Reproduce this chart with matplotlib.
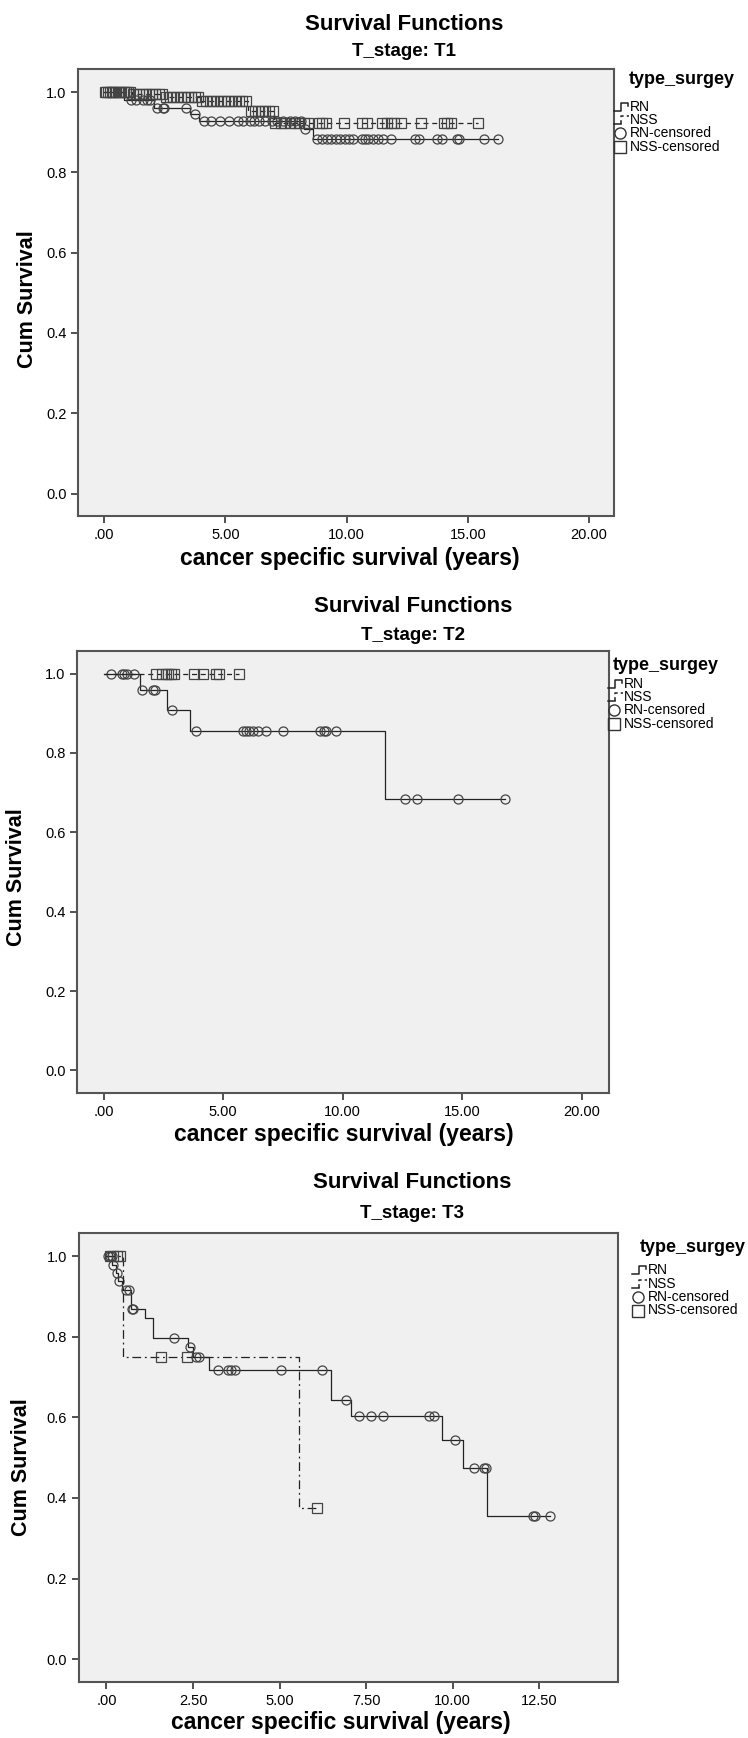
import matplotlib
matplotlib.use('Agg')
import matplotlib.pyplot as plt
from matplotlib.lines import Line2D
import numpy as np

plt.rcParams['font.family'] = ['Liberation Sans', 'DejaVu Sans']

# ---- T1 ----
t1_rn_event_t = [0.80, 2.05, 3.55, 3.90, 8.25, 8.60]
t1_rn_event_s = [0.981, 0.960, 0.945, 0.929, 0.909, 0.883]
t1_rn_cens = [1.09, 1.30, 1.58, 1.75, 1.90, 2.18, 2.42, 2.45, 3.36, 3.74, 4.10, 4.40,
              4.77, 5.14, 5.51, 5.73, 6.03, 6.18, 6.40, 6.62, 6.91, 7.14, 7.36, 7.66,
              7.88, 8.10, 8.30, 8.77, 8.99, 9.21, 9.36, 9.58, 9.73, 9.95, 10.10, 10.25,
              10.62, 10.77, 10.89, 11.07, 11.29, 11.51, 11.81, 12.84, 12.99, 13.73,
              13.95, 14.55, 14.62, 15.66, 16.25]
t1_nss_event_t = [1.15, 2.45, 3.95, 5.95, 7.00]
t1_nss_event_s = [0.995, 0.988, 0.977, 0.952, 0.923]
t1_nss_cens = [0.02, 0.08, 0.15, 0.22, 0.30, 0.38, 0.45, 0.55, 0.62, 0.70, 0.80, 0.90,
               1.00, 1.08, 1.20, 1.33, 1.45, 1.60, 1.72, 1.85, 1.98, 2.10, 2.25, 2.38,
               2.55, 2.70, 2.85, 3.00, 3.15, 3.30, 3.45, 3.60, 3.75, 3.88, 4.05, 4.20,
               4.35, 4.50, 4.65, 4.80, 4.95, 5.10, 5.25, 5.40, 5.55, 5.70, 5.85, 6.05,
               6.20, 6.35, 6.50, 6.65, 6.80, 6.95, 7.06, 7.28, 7.43, 7.66, 7.88, 8.03,
               8.25, 8.40, 8.84, 8.99, 9.14, 9.88, 10.62, 10.84, 11.44, 11.66, 11.81,
               11.96, 12.25, 13.06, 14.03, 14.15, 14.32, 15.44]

# ---- T2 ----
t2_rn_event_t = [1.53, 2.66, 3.63, 11.78]
t2_rn_event_s = [0.958, 0.908, 0.855, 0.684]
t2_rn_cens = [0.29, 0.75, 0.85, 0.99, 1.27, 1.59, 2.08, 2.14, 2.87, 3.88, 5.84, 5.95,
              6.07, 6.25, 6.44, 6.81, 7.50, 9.06, 9.20, 9.31, 9.73, 12.60, 13.10,
              14.80, 16.80]
t2_nss_event_t = []
t2_nss_event_s = []
t2_nss_cens = [2.17, 2.45, 2.60, 2.70, 2.80, 2.94, 3.77, 4.16, 4.68, 4.82, 5.65]

# ---- T3 ----
t3_rn_event_t = [0.17, 0.27, 0.33, 0.45, 0.70, 1.10, 1.34, 2.37, 2.49, 2.97, 6.47,
                 7.07, 9.69, 10.30, 11.00]
t3_rn_event_s = [0.979, 0.959, 0.938, 0.916, 0.870, 0.846, 0.798, 0.775, 0.750,
                 0.717, 0.643, 0.603, 0.544, 0.475, 0.355]
t3_rn_cens = [0.05, 0.10, 0.15, 0.19, 0.31, 0.36, 0.57, 0.65, 0.74, 0.78, 1.96, 2.42,
              2.59, 2.68, 3.21, 3.50, 3.61, 3.71, 5.05, 6.23, 6.91, 7.29, 7.65, 7.99,
              9.31, 9.45, 10.07, 10.60, 10.91, 10.97, 12.33, 12.38, 12.81]
t3_nss_event_t = [0.47, 5.56]
t3_nss_event_s = [0.75, 0.375]
t3_nss_cens = [0.10, 0.20, 0.30, 0.40, 1.58, 2.33, 6.07]

stages = ['T1', 'T2', 'T3']
xticks_by_stage = [[0, 5, 10, 15, 20], [0, 5, 10, 15, 20], [0, 2.5, 5, 7.5, 10, 12.5]]
xlim_by_stage = [(-1.07, 21.03), (-1.10, 21.13), (-0.80, 14.77)]
legend_labels = ['RN', 'NSS', 'RN-censored', 'NSS-censored']

W, H = 748, 1738
# axes boxes in pixels: left, right, top, bottom
boxes = [(78.3, 614, 69.3, 516), (77.3, 609, 651, 1092.7), (78.7, 618, 1233.3, 1681.7)]
title_y = [25, 606, 1183]
sub_y = [52, 636, 1214]
title_x = [404, 413, 412]
ylab_x = [28, 17, 22]
ylab_dy = [6, 5, 10]
xlab_y = [559, 1135, 1723]
xlab_x = [350, 344, 341]
nss_styles = [(0, (4, 3)), (0, (4, 3)), (0, (7, 3, 1.5, 3))]
# legend: title x, title y, entry text x, first row y, row step (pixels)
leg_pos = [(629, 79, 630, 107, 13.2), (613, 665, 624, 684, 13.2), (640, 1247, 648, 1270, 13.5)]

DARK = '#222222'
GREY = '#444444'


def km_curve(ev_t, ev_s, cens):
    end = max(cens + ev_t)
    x = [0] + list(ev_t) + [end]
    y = [1.0] + list(ev_s) + [ev_s[-1] if ev_s else 1.0]
    return x, y


def surv_at(ev_t, ev_s, t):
    idx = np.searchsorted(np.array(ev_t), np.array(t), side='right')
    levels = np.array([1.0] + list(ev_s))
    return levels[idx]


def fx(px):
    return px / W


def fy(py):
    return 1 - py / H


def figline(xs, ys, **kw):
    fig.add_artist(Line2D([fx(v) for v in xs], [fy(v) for v in ys],
                          transform=fig.transFigure, **kw))


def draw_legend(i):
    tx, ty, ex, ey, step = leg_pos[i]
    fig.text(fx(tx), fy(ty), 'type_surgey', fontsize=13, fontweight='bold',
             ha='left', va='center')
    for k, lab in enumerate(legend_labels):
        yk = ey + k * step
        fig.text(fx(ex), fy(yk), lab, fontsize=10, ha='left', va='center')
        if k == 0:
            figline([ex - 16, ex - 9, ex - 9, ex - 2, ex - 2],
                    [yk + 4, yk + 4, yk - 4, yk - 4, yk - 1],
                    color=DARK, lw=1.1)
        elif k == 1:
            figline([ex - 16, ex - 9], [yk + 4, yk + 4], color=DARK, lw=1.1)
            figline([ex - 9, ex - 9, ex - 1], [yk + 4, yk - 4, yk - 4],
                    color=DARK, lw=1.1, linestyle=(0, (2.5, 2)))
        else:
            figline([ex - 10], [yk], linestyle='none', marker='o' if k == 2 else 's',
                    ms=8, mfc='none', mec='#333333', mew=1.0)


fig = plt.figure(figsize=(W / 100, H / 100), dpi=100)

data = [
    (t1_rn_event_t, t1_rn_event_s, t1_rn_cens, t1_nss_event_t, t1_nss_event_s, t1_nss_cens),
    (t2_rn_event_t, t2_rn_event_s, t2_rn_cens, t2_nss_event_t, t2_nss_event_s, t2_nss_cens),
    (t3_rn_event_t, t3_rn_event_s, t3_rn_cens, t3_nss_event_t, t3_nss_event_s, t3_nss_cens),
]

for i, stage in enumerate(stages):
    l, r, t, b = boxes[i]
    ax = fig.add_axes([l / W, 1 - b / H, (r - l) / W, (b - t) / H])
    ax.set_facecolor('#f0f0f0')
    rn_t, rn_s, rn_c, nss_t, nss_s, nss_c = data[i]

    x, y = km_curve(rn_t, rn_s, rn_c)
    ax.step(x, y, where='post', color=DARK, lw=0.9)
    ax.plot(rn_c, surv_at(rn_t, rn_s, rn_c), linestyle='none', marker='o', ms=6.5,
            mfc='none', mec=GREY, mew=0.9)

    x, y = km_curve(nss_t, nss_s, nss_c)
    ax.step(x, y, where='post', color=DARK, lw=0.9, linestyle=nss_styles[i])
    ax.plot(nss_c, surv_at(nss_t, nss_s, nss_c), linestyle='none', marker='s', ms=6.5,
            mfc='none', mec=GREY, mew=0.9)

    ax.set_xlim(*xlim_by_stage[i])
    ax.set_ylim(-0.056, 1.057)
    ax.set_xticks(xticks_by_stage[i])
    ax.set_xticklabels(['.00' if v == 0 else f'{v:.2f}' for v in xticks_by_stage[i]])
    ax.set_yticks([0, 0.2, 0.4, 0.6, 0.8, 1.0])
    ax.set_yticklabels([f'{v:.1f}' for v in [0, 0.2, 0.4, 0.6, 0.8, 1.0]])
    ax.tick_params(direction='out', length=5, width=1.2, color='#333333',
                   labelsize=10.5, pad=3.5)
    for s in ax.spines.values():
        s.set_color('#555555')
        s.set_linewidth(1.5)

    fig.text(fx(title_x[i]), fy(title_y[i]), 'Survival Functions', fontsize=16,
             fontweight='bold', ha='center', va='center')
    fig.text(fx(title_x[i]), fy(sub_y[i]), f'T_stage: {stage}', fontsize=13.5,
             fontweight='bold', ha='center', va='center')
    fig.text(fx(ylab_x[i]), fy((t + b) / 2 + ylab_dy[i]), 'Cum Survival', fontsize=15.5,
             fontweight='bold', rotation=90, ha='center', va='center')
    fig.text(fx(xlab_x[i]), fy(xlab_y[i]), 'cancer specific survival (years)',
             fontsize=16.5, fontweight='bold', ha='center', va='center')
    draw_legend(i)

fig.savefig('out.png', dpi=100, facecolor='white')
